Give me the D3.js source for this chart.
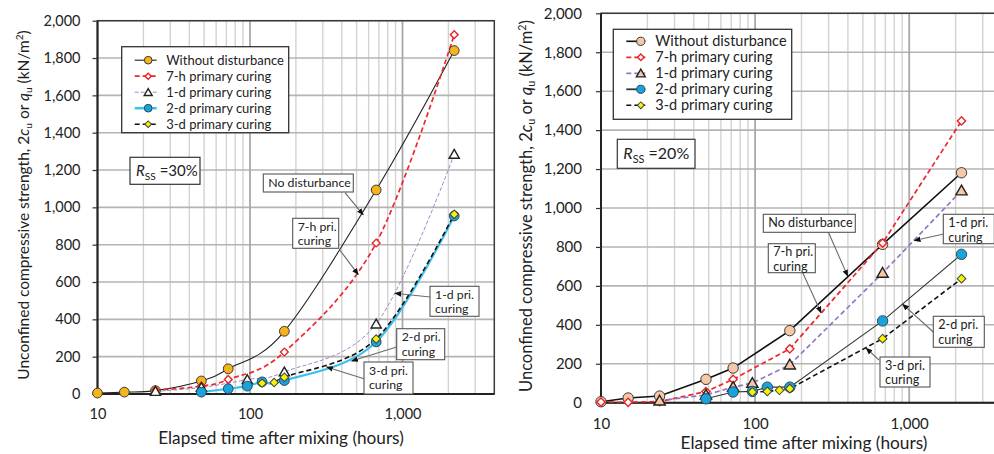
<!DOCTYPE html>
<html>
<head>
<meta charset="utf-8">
<script src="https://cdn.jsdelivr.net/npm/d3@7"></script>
<style>
  body { margin: 0; background: #fff; }
  svg { display: block; }
  text { font-family: Lato, "Open Sans", sans-serif; fill: #222; }
</style>
</head>
<body>
<svg id="chart" width="994" height="454"></svg>
<script>
// ---------- data: [elapsed hours, strength kN/m2] ----------
const hourTicks = [10, 100, 1000];
const strengthTicks = [0, 200, 400, 600, 800, 1000, 1200, 1400, 1600, 1800, 2000];
const seriesNames = ["Without disturbance", "7-h primary curing", "1-d primary curing",
                     "2-d primary curing", "3-d primary curing"];

// R_SS = 30 %
const rss30Without = [[10, 5], [15, 10], [24, 18], [48, 70], [72, 135], [168, 336], [672, 1093], [2184, 1840]];
const rss30Hour7   = [[24, 20], [48, 42], [72, 78], [168, 225], [672, 809], [2184, 1925]];
const rss30Day1    = [[24, 14], [48, 35], [96, 77], [168, 118], [672, 375], [2184, 1284]];
const rss30Day2    = [[48, 10], [72, 28], [96, 42], [120, 65], [168, 72], [672, 279], [2184, 954]];
const rss30Day3    = [[120, 58], [144, 62], [168, 90], [672, 295], [2184, 963]];

// R_SS = 20 %
const rss20Without = [[10, 5], [15, 24], [24, 34], [48, 120], [72, 178], [168, 370], [672, 813], [2184, 1181]];
const rss20Hour7   = [[10, 3], [15, 2], [24, 6], [48, 57], [72, 120], [168, 277], [672, 820], [2184, 1447]];
const rss20Day1    = [[24, 10], [48, 40], [72, 80], [96, 101], [168, 195], [672, 666], [2184, 1089]];
const rss20Day2    = [[48, 20], [72, 55], [96, 58], [120, 80], [168, 80], [672, 420], [2184, 762]];
const rss20Day3    = [[96, 55], [120, 58], [144, 64], [168, 72], [672, 329], [2184, 637]];

// ---------- drawing ----------
const svg = d3.select("#chart");
const fmt = d3.format(",");

const defs = svg.append("defs");
defs.append("marker")
  .attr("id", "arrowHead").attr("viewBox", "0 0 10 10")
  .attr("refX", 9).attr("refY", 5)
  .attr("markerWidth", 7).attr("markerHeight", 7)
  .attr("markerUnits", "userSpaceOnUse")
  .attr("orient", "auto")
  .append("path").attr("d", "M0,1 L10,5 L0,9 Z").attr("fill", "#111");

function symbolPath(kind, size) {
  if (kind === "circle") return d3.symbol(d3.symbolCircle, size)();
  if (kind === "triangle") return d3.symbol(d3.symbolTriangle, size)();
  return d3.symbol(d3.symbolSquare, size)();   // rotated into a diamond
}

function drawMarker(g, kind, x, y, st) {
  const p = g.append("path")
    .attr("d", symbolPath(kind, st.size))
    .attr("fill", st.fill).attr("stroke", st.stroke).attr("stroke-width", st.mw || 1);
  if (kind === "diamond") p.attr("transform", `translate(${x},${y}) rotate(45)`);
  else if (kind === "triangle") p.attr("transform", `translate(${x},${y + 1})`);
  else p.attr("transform", `translate(${x},${y})`);
}

function drawPanel(cfg) {
  const x = d3.scaleLog().domain([10, 4000]).range([cfg.x0, cfg.x1]);
  const y = d3.scaleLinear().domain([0, 2000]).range([cfg.y1, cfg.y0]);
  const g = svg.append("g");
  const clipId = "clip" + cfg.id;
  defs.append("clipPath").attr("id", clipId)
    .append("rect").attr("x", cfg.x0).attr("y", cfg.y0 - 8)
    .attr("width", cfg.x1 - cfg.x0).attr("height", cfg.y1 - cfg.y0 + 8);

  // grid
  const minor = d3.range(1, 4).flatMap(e => d3.range(2, 10).map(m => m * Math.pow(10, e)))
    .filter(v => v < 4000);
  g.append("g").selectAll("line").data(minor).join("line")
    .attr("x1", d => x(d)).attr("x2", d => x(d))
    .attr("y1", cfg.y0).attr("y2", cfg.y1)
    .attr("stroke", "#d3d3d3").attr("stroke-width", 1.4);
  g.append("g").selectAll("line").data(strengthTicks.slice(1)).join("line")
    .attr("x1", cfg.x0).attr("x2", cfg.x1)
    .attr("y1", d => y(d)).attr("y2", d => y(d))
    .attr("stroke", "#b4b4b4").attr("stroke-width", 1.6);
  g.append("g").selectAll("line").data([100, 1000]).join("line")
    .attr("x1", d => x(d)).attr("x2", d => x(d))
    .attr("y1", cfg.y0).attr("y2", cfg.y1)
    .attr("stroke", "#a8a8a8").attr("stroke-width", 1.8);

  // frame
  g.append("rect").attr("x", cfg.x0).attr("y", cfg.y0)
    .attr("width", cfg.x1 - cfg.x0).attr("height", cfg.y1 - cfg.y0)
    .attr("fill", "none").attr("stroke", "#3a3a3a").attr("stroke-width", 1.5);
  g.append("line").attr("x1", cfg.x0).attr("x2", cfg.x0).attr("y1", cfg.y0).attr("y2", cfg.y1)
    .attr("stroke", "#222").attr("stroke-width", 2);
  g.append("line").attr("x1", cfg.x0).attr("x2", cfg.x1).attr("y1", cfg.y1).attr("y2", cfg.y1)
    .attr("stroke", "#222").attr("stroke-width", 2);

  // axes
  const yAxis = d3.axisLeft(y).tickValues(strengthTicks).tickFormat(fmt).tickSize(5).tickPadding(cfg.yPad);
  const ya = g.append("g").attr("transform", `translate(${cfg.x0},0)`).call(yAxis);
  ya.select(".domain").remove();
  ya.selectAll(".tick line").attr("stroke", "#333").attr("stroke-width", 1.2);
  ya.selectAll("text").attr("font-size", cfg.tickFont).attr("fill", "#222")
    .style("font-family", "Lato, 'Open Sans', sans-serif");

  const xAxis = d3.axisBottom(x).tickValues(hourTicks).tickFormat(fmt).tickSize(0).tickPadding(cfg.xPad);
  const xa = g.append("g").attr("transform", `translate(0,${cfg.y1})`).call(xAxis);
  xa.select(".domain").remove();
  xa.selectAll("text").attr("font-size", cfg.tickFont).attr("fill", "#222")
    .style("font-family", "Lato, 'Open Sans', sans-serif");

  // axis titles
  g.append("text").attr("x", cfg.xTitle[0]).attr("y", cfg.xTitle[1])
    .attr("text-anchor", "middle").attr("font-size", cfg.xTitleFont)
    .text("Elapsed time after mixing (hours)");
  const yt = g.append("text")
    .attr("transform", `translate(${cfg.yTitle[0]},${cfg.yTitle[1]}) rotate(-90)`)
    .attr("text-anchor", "middle").attr("font-size", cfg.titleFont);
  yt.append("tspan").text("Unconfined compressive strength, 2");
  yt.append("tspan").attr("font-style", "italic").text("c");
  yt.append("tspan").attr("font-size", cfg.titleFont * 0.65).attr("dy", 3).text("u");
  yt.append("tspan").attr("dy", -3).text(" or ");
  yt.append("tspan").attr("font-style", "italic").text("q");
  yt.append("tspan").attr("font-size", cfg.titleFont * 0.65).attr("dy", 3).text("u");
  yt.append("tspan").attr("dy", -3).text(" (kN/m");
  yt.append("tspan").attr("font-size", cfg.titleFont * 0.65).attr("dy", -6).text("2");
  yt.append("tspan").attr("dy", 6).text(")");

  // lines
  const line = d3.line().x(d => x(d[0])).y(d => y(d[1]))
    .curve(cfg.smooth ? d3.curveCatmullRom.alpha(0) : d3.curveLinear);
  const lineLayer = g.append("g").attr("clip-path", `url(#${clipId})`);
  cfg.series.forEach(s => {
    lineLayer.append("path").datum(s.data).attr("d", line)
      .attr("fill", "none").attr("stroke", s.color).attr("stroke-width", s.width)
      .attr("stroke-dasharray", s.dash || null);
  });
  const markLayer = g.append("g");
  cfg.series.forEach(s => {
    s.data.forEach(d => drawMarker(markLayer, s.shape, x(d[0]), y(d[1]), s));
  });

  // legend
  const L = cfg.legend;
  const lg = g.append("g").attr("transform", `translate(${L.x},${L.y})`);
  lg.append("rect").attr("width", L.w).attr("height", L.h)
    .attr("fill", "#fff").attr("stroke", "#333").attr("stroke-width", 1.3);
  cfg.series.forEach((s, i) => {
    const ry = L.row0 + i * L.step;
    lg.append("line").attr("x1", L.lineX[0]).attr("x2", L.lineX[1]).attr("y1", ry).attr("y2", ry)
      .attr("stroke", s.color).attr("stroke-width", s.legendWidth || s.width)
      .attr("stroke-dasharray", s.dash || null);
    drawMarker(lg, s.shape, L.markX, ry, Object.assign({}, s, { size: s.size * 0.62 }));
    lg.append("text").attr("x", L.textX).attr("y", ry).attr("dy", "0.35em")
      .attr("font-size", L.font).text(seriesNames[i]);
  });

  // R_SS box
  const R = cfg.rssBox;
  const rg = g.append("g").attr("transform", `translate(${R.x},${R.y})`);
  rg.append("rect").attr("width", R.w).attr("height", R.h)
    .attr("fill", "#fff").attr("stroke", "#333").attr("stroke-width", 1.2);
  const rt = rg.append("text").attr("x", 6).attr("y", R.h / 2).attr("dy", "0.35em").attr("font-size", R.font);
  rt.append("tspan").attr("font-style", "italic").text("R");
  rt.append("tspan").attr("font-size", R.font * 0.68).attr("dy", 4).text("SS");
  rt.append("tspan").attr("dy", -4).text(" =" + cfg.rss);

  // callouts
  cfg.notes.forEach(n => {
    const ng = g.append("g");
    ng.append("line")
      .attr("x1", n.from[0]).attr("y1", n.from[1])
      .attr("x2", x(n.tip[0])).attr("y2", y(n.tip[1]))
      .attr("stroke", "#6b6b6b").attr("stroke-width", 1.1)
      .attr("marker-end", "url(#arrowHead)");
    ng.append("rect").attr("x", n.box[0]).attr("y", n.box[1]).attr("width", n.box[2]).attr("height", n.box[3])
      .attr("fill", "#fff").attr("stroke", "#555").attr("stroke-width", 1.1);
    const nt = ng.append("text").attr("font-size", cfg.noteFont);
    n.text.forEach((t, i) => {
      nt.append("tspan").attr("x", n.box[0] + 5).attr("y", n.box[1] + 12.5 + i * cfg.noteStep).text(t);
    });
  });
}

drawPanel({
  id: "A", x0: 97.5, x1: 494.3, y0: 20.7, y1: 394, smooth: true, rss: "30%",
  tickFont: 14.5, titleFont: 15.5, xTitleFont: 17.2, noteFont: 12.3, noteStep: 14.5, yPad: 12, xPad: 15,
  xTitle: [281, 444], yTitle: [29, 205],
  series: [
    { data: rss30Without, shape: "circle",   size: 75, fill: "#f5b41c", stroke: "#3a3a3a", color: "#222",    width: 1.1 },
    { data: rss30Hour7,   shape: "diamond",  size: 30, fill: "#fff",    stroke: "#e8242a", mw: 1.4, color: "#f0262c", width: 1.7, dash: "5,3" },
    { data: rss30Day1,    shape: "triangle", size: 45, fill: "#fff",    stroke: "#222",    mw: 1.4, color: "#9d8bc9", width: 1,   dash: "4,2" },
    { data: rss30Day2,    shape: "circle",   size: 75, fill: "#19a2dc", stroke: "#2a4b5a", color: "#3cc0f0", width: 2.2, legendWidth: 2.5 },
    { data: rss30Day3,    shape: "diamond",  size: 36, fill: "#f7f400", stroke: "#444",    color: "#111",    width: 1.6, dash: "5,3" }
  ],
  legend: { x: 121.7, y: 46.7, w: 167, h: 86, row0: 13.5, step: 16, lineX: [13, 35], markX: 26.5, textX: 44.5, font: 13 },
  rssBox: { x: 130, y: 157.3, w: 70, h: 27, font: 15 },
  notes: [
    { text: ["No disturbance"],      box: [263.3, 174, 90, 18],    from: [345, 192.7], tip: [553, 960] },
    { text: ["7-h pri.", "curing"],  box: [292.7, 218.3, 46, 30],  from: [340, 250.3], tip: [513, 640] },
    { text: ["1-d pri.", "curing"],  box: [430, 286.3, 49, 30],    from: [430, 297],   tip: [893, 540] },
    { text: ["2-d pri.", "curing"],  box: [396.7, 328.7, 48, 31],  from: [396.7, 347], tip: [464, 177] },
    { text: ["3-d pri.", "curing"],  box: [364, 362, 49, 32],      from: [364, 378.7], tip: [318, 145] }
  ]
});

drawPanel({
  id: "B", x0: 601, x1: 1002, y0: 13.3, y1: 402.7, smooth: false, rss: "20%",
  tickFont: 15, titleFont: 16.5, xTitleFont: 17.3, noteFont: 12.6, noteStep: 14.8, yPad: 14, xPad: 16,
  xTitle: [804, 449], yTitle: [532, 206],
  series: [
    { data: rss20Without, shape: "circle",   size: 85, fill: "#f7c8a8", stroke: "#3a3a3a", color: "#111",    width: 1.6 },
    { data: rss20Hour7,   shape: "diamond",  size: 34, fill: "#fff",    stroke: "#e8242a", mw: 1.4, color: "#f0262c", width: 1.7, dash: "5,3" },
    { data: rss20Day1,    shape: "triangle", size: 55, fill: "#f7c8a8", stroke: "#222",    mw: 1.4, color: "#8e78c4", width: 1.7, dash: "5,3" },
    { data: rss20Day2,    shape: "circle",   size: 85, fill: "#19a2dc", stroke: "#2a4b5a", color: "#333",    width: 1.1, legendWidth: 1.8 },
    { data: rss20Day3,    shape: "diamond",  size: 38, fill: "#f7f400", stroke: "#444",    color: "#111",    width: 1.6, dash: "5,3" }
  ],
  legend: { x: 613.3, y: 29.3, w: 178.4, h: 90, row0: 12, step: 16, lineX: [13, 32], markX: 27.5, textX: 42, font: 14.5 },
  rssBox: { x: 617.3, y: 139.3, w: 77.7, h: 29, font: 16 },
  notes: [
    { text: ["No disturbance"],      box: [763.3, 214.3, 92, 18],  from: [828.3, 232],   tip: [399, 650] },
    { text: ["7-h pri.", "curing"],  box: [768.3, 243.7, 47, 29],  from: [802.7, 272.7], tip: [268, 462] },
    { text: ["1-d pri.", "curing"],  box: [943.3, 214.3, 51, 29.4],from: [945, 233.7],   tip: [1078, 833] },
    { text: ["2-d pri.", "curing"],  box: [933.3, 316.3, 51, 31],  from: [933.3, 332],   tip: [905, 506] },
    { text: ["3-d pri.", "curing"],  box: [880, 357, 50, 30],      from: [879, 360],     tip: [525, 280] }
  ]
});
</script>
</body>
</html>
